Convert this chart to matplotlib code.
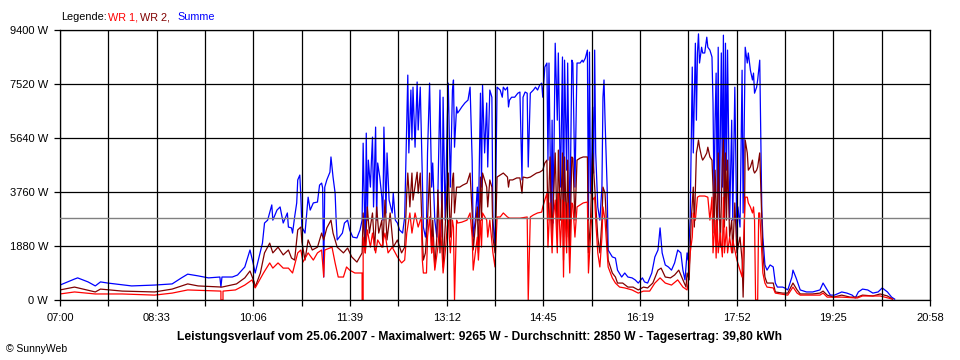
import matplotlib
matplotlib.use("Agg")
import matplotlib.pyplot as plt

# ---------------- data (minutes after 07:00, watts) ----------------
x_tick_labels = ["07:00", "08:33", "10:06", "11:39", "13:12",
                 "14:45", "16:19", "17:52", "19:25", "20:58"]
y_ticks = [0, 1880, 3760, 5640, 7520, 9400]
average_w = 2850

t_summe = [0, 14, 17, 27, 34, 39, 46, 69, 91, 108, 117, 123, 133, 143, 154, 155, 156, 166, 171, 178,
           183, 186, 188, 191, 195, 197, 200, 204, 205, 209, 212, 215, 219, 220, 223, 224, 226, 228, 229, 231,
           232, 233, 236, 239, 241, 244, 248, 250, 252, 253, 254, 255, 257, 260, 261, 263, 265, 266, 267, 272,
           274, 277, 279, 282, 286, 289, 291, 292, 294, 295, 296, 297, 299, 300, 301, 302, 304, 305, 306, 308,
           310, 311, 312, 314, 315, 317, 320, 321, 323, 325, 327, 330, 332, 334, 335, 336, 338, 339, 340, 342,
           344, 345, 347, 349, 350, 352, 353, 354, 356, 358, 359, 361, 363, 364, 366, 368, 369, 371, 373, 374,
           376, 378, 379, 380, 382, 383, 385, 387, 390, 393, 395, 397, 398, 400, 402, 403, 405, 406, 407, 409,
           411, 412, 414, 416, 417, 419, 421, 424, 426, 427, 429, 431, 432, 433, 435, 438, 441, 443, 445, 446,
           448, 450, 451, 453, 456, 458, 460, 462, 464, 465, 467, 469, 470, 471, 473, 474, 475, 477, 479, 480,
           482, 484, 485, 486, 488, 489, 491, 493, 494, 496, 498, 501, 503, 504, 506, 508, 509, 510, 511, 512,
           513, 514, 515, 516, 518, 520, 522, 523, 524, 525, 527, 528, 532, 535, 537, 541, 544, 547, 551, 554,
           557, 561, 563, 566, 570, 573, 576, 578, 580, 583, 586, 589, 592, 595, 598, 600, 602, 604, 605, 607,
           609, 610, 612, 613, 614, 615, 616, 618, 619, 621, 623, 624, 626, 628, 629, 630, 631, 632, 633, 634,
           635, 637, 638, 639, 640, 641, 642, 643, 645, 647, 648, 650, 652, 653, 655, 657, 658, 660, 662, 663,
           665, 667, 668, 669, 671, 672, 674, 676, 677, 679, 681, 684, 687, 689, 691, 696, 698, 701, 705, 706,
           709, 713, 719, 725, 732, 735, 739, 742, 746, 753, 758, 763, 766, 769, 773, 778, 783, 788, 792, 797,
           801, 804]
summe = [520, 730, 770, 630, 490, 630, 590, 490, 520, 560, 770, 900, 840, 770, 800, 450, 800, 800, 870, 1150,
         1740, 1290, 940, 1390, 1980, 2680, 2780, 3310, 2780, 3130, 3240, 2680, 3030, 2540, 2510, 2330, 2890, 3380, 4180, 4350,
         3580, 2540, 2330, 3580, 3130, 3380, 3410, 4000, 4070, 3900, 800, 3930, 4180, 4450, 4980, 4280, 3720, 2780, 2090, 2330,
         2680, 2780, 2440, 2190, 2160, 2440, 2780, 5460, 1840, 5810, 2780, 4870, 3930, 4870, 5670, 3240, 6020, 2780, 4770, 4280,
         3580, 2780, 6020, 3030, 5120, 3480, 3030, 3720, 2780, 2680, 2440, 2330, 2890, 6260, 7830, 5120, 7310, 5570, 7410, 5320,
         7590, 5920, 7410, 4280, 2540, 2190, 2540, 5120, 7550, 3930, 4770, 2780, 2190, 3720, 7310, 2190, 7060, 2780, 6260, 7550,
         3930, 7310, 7660, 5320, 6720, 6510, 6610, 6720, 6860, 6960, 7410, 4870, 2190, 2780, 3930, 2780, 7200, 3930, 7480, 5120,
         6860, 4630, 7310, 7060, 2780, 1840, 7410, 7310, 7060, 7410, 7310, 7410, 6720, 6960, 7060, 7060, 7200, 7240, 4180, 7060,
         7240, 7200, 4630, 7200, 7310, 7410, 7310, 7480, 7550, 7060, 8110, 8250, 4870, 8250, 2780, 6260, 2680, 8940, 6260, 8600,
         3930, 8460, 2190, 8350, 4520, 8250, 2330, 8350, 8250, 3930, 8250, 8250, 8350, 8280, 8420, 8700, 2780, 8630, 3720, 4280,
         6720, 4420, 8700, 5120, 3240, 2780, 3930, 7060, 7660, 6260, 3930, 1740, 1500, 1460, 1040, 800, 940, 800, 770, 700,
         590, 770, 630, 590, 940, 1500, 1740, 2510, 1640, 1220, 1150, 1040, 1290, 1740, 1640, 1040, 700, 1640, 1390, 2780,
         8110, 5120, 8940, 6260, 8600, 9265, 8250, 8800, 8600, 8600, 9150, 8800, 8700, 8460, 6860, 3380, 6260, 7900, 3720, 8800,
         2780, 8600, 3930, 9220, 2780, 8940, 4520, 8700, 2780, 6260, 2780, 7410, 2190, 3240, 2540, 8000, 3030, 8800, 8250, 8600,
         8000, 7660, 7900, 7200, 7410, 7660, 8350, 3130, 2190, 1220, 1040, 1220, 1150, 590, 450, 450, 420, 350, 800, 1040,
         770, 350, 280, 280, 350, 590, 350, 170, 170, 280, 240, 170, 70, 280, 380, 350, 240, 280, 420, 280,
         100, 30]

t_wr2 = [0, 14, 34, 39, 60, 91, 108, 123, 133, 156, 170, 178, 183, 187, 188, 193, 197, 202, 205, 210,
         215, 220, 223, 226, 229, 232, 233, 236, 239, 243, 248, 252, 254, 257, 261, 263, 267, 273, 277, 281,
         286, 291, 292, 294, 296, 298, 301, 303, 305, 307, 310, 311, 313, 315, 318, 321, 325, 329, 332, 334,
         335, 337, 339, 340, 344, 345, 347, 349, 350, 352, 354, 356, 358, 359, 361, 363, 364, 366, 368, 369,
         373, 374, 376, 378, 379, 380, 382, 385, 388, 392, 395, 397, 398, 400, 402, 403, 405, 406, 407, 411,
         412, 414, 416, 417, 419, 421, 424, 427, 431, 432, 433, 436, 440, 443, 445, 446, 450, 453, 456, 459,
         462, 465, 467, 469, 470, 472, 474, 475, 477, 479, 480, 482, 484, 485, 486, 488, 489, 491, 493, 494,
         496, 498, 501, 504, 508, 509, 511, 512, 513, 516, 518, 520, 522, 523, 525, 527, 528, 532, 535, 537,
         542, 547, 552, 557, 562, 566, 571, 576, 579, 583, 588, 592, 596, 600, 603, 604, 606, 608, 610, 611,
         613, 614, 615, 616, 618, 619, 621, 623, 624, 626, 628, 629, 630, 631, 633, 634, 636, 638, 639, 640,
         641, 642, 643, 645, 647, 648, 650, 652, 653, 655, 657, 658, 659, 660, 662, 663, 665, 667, 668, 669,
         671, 672, 674, 676, 677, 679, 681, 684, 687, 689, 696, 701, 705, 706, 710, 713, 725, 732, 735, 739,
         745, 753, 761, 768, 773, 783, 790, 797, 802]
wr2 = [350, 450, 280, 380, 310, 280, 380, 560, 490, 450, 560, 770, 1010, 630, 450, 940, 1640, 1980, 1640, 1840,
       1570, 1740, 1460, 1390, 2440, 2540, 2020, 1390, 2090, 1740, 1840, 2330, 2090, 2510, 2780, 2330, 1840, 1640, 1810, 1500,
       1320, 1640, 3030, 1640, 3240, 2330, 3030, 1740, 3240, 2330, 2780, 1840, 3480, 2090, 3030, 1840, 2090, 1640, 1840, 3720,
       4420, 3240, 4420, 3480, 4450, 3720, 4420, 2190, 1390, 1640, 2780, 4420, 1640, 2780, 1150, 2190, 3830, 1640, 3720, 1150,
       3930, 4420, 2190, 4180, 4420, 3030, 3930, 3930, 4000, 4070, 4420, 3030, 1740, 2540, 3240, 1640, 4280, 2780, 4420, 3930,
       3240, 4180, 3930, 2190, 1640, 4280, 4350, 4420, 4280, 3930, 4180, 4180, 4250, 4250, 3720, 4280, 4250, 4280, 4350, 4420,
       4450, 4520, 4770, 4870, 2780, 4980, 2190, 3240, 5120, 2190, 5220, 2780, 5120, 1390, 4980, 2190, 4870, 1640, 4980, 4940,
       2780, 4870, 4940, 4980, 4980, 1640, 2780, 3930, 5120, 3380, 2190, 1640, 2780, 3930, 3720, 2190, 1390, 940, 800, 590,
       590, 450, 450, 350, 450, 420, 590, 1040, 1110, 800, 770, 870, 1040, 700, 450, 940, 700, 2780, 3930, 2540,
       5120, 5320, 5570, 5320, 4980, 4870, 4980, 5120, 5320, 4980, 4870, 3930, 2330, 4520, 2190, 5120, 1840, 4870, 5570, 2540,
       5120, 2780, 4870, 2190, 2780, 1640, 3380, 1640, 1840, 2190, 1390, 100, 1640, 5570, 5120, 4520, 4630, 4870, 4520, 4420,
       4520, 4630, 5120, 2780, 1640, 800, 590, 590, 590, 280, 240, 240, 520, 590, 350, 210, 210, 240, 310, 170,
       100, 170, 100, 100, 170, 140, 210, 140, 30]

t_wr1 = [0, 14, 34, 60, 91, 108, 123, 154, 155, 155, 157, 157, 169, 178, 185, 188, 196, 202, 205, 210,
         215, 220, 224, 229, 232, 234, 239, 244, 248, 252, 254, 255, 262, 265, 268, 273, 276, 279, 284, 291,
         291, 292, 292, 294, 296, 299, 301, 304, 306, 310, 313, 316, 320, 325, 329, 332, 334, 337, 339, 342,
         345, 348, 349, 350, 353, 354, 356, 358, 359, 361, 364, 366, 368, 369, 371, 373, 374, 376, 378, 379,
         380, 382, 383, 387, 392, 395, 397, 398, 400, 402, 403, 405, 406, 407, 411, 412, 414, 417, 419, 421,
         424, 427, 431, 433, 438, 443, 450, 451, 453, 456, 460, 464, 465, 469, 470, 472, 474, 475, 477, 479,
         480, 482, 484, 485, 486, 488, 489, 491, 493, 494, 496, 498, 501, 504, 508, 509, 511, 513, 515, 516,
         518, 520, 522, 523, 525, 527, 528, 532, 535, 539, 544, 551, 557, 562, 568, 573, 578, 583, 589, 595,
         600, 604, 605, 607, 609, 610, 612, 614, 616, 621, 624, 626, 628, 629, 631, 632, 633, 634, 636, 638,
         639, 640, 642, 643, 645, 647, 648, 652, 655, 657, 658, 660, 662, 663, 665, 667, 668, 669, 670, 672,
         673, 674, 676, 677, 679, 681, 687, 689, 701, 706, 710, 713, 732, 735, 739, 753, 768, 773, 790, 802]
wr1 = [210, 280, 210, 210, 170, 240, 350, 310, 310, 0, 0, 310, 350, 520, 700, 420, 940, 1290, 1110, 1290,
       1110, 1110, 940, 1640, 1740, 1320, 1640, 1390, 1640, 1740, 800, 1740, 1840, 1290, 800, 800, 1150, 1040, 940, 940,
       0, 0, 2190, 1640, 2440, 1840, 2330, 1640, 2090, 1840, 2330, 1640, 1840, 1500, 1290, 1390, 2330, 3030, 2330, 3030,
       2540, 2890, 1390, 940, 940, 2190, 2890, 1640, 2190, 1040, 1840, 2780, 1640, 940, 1640, 2540, 2780, 1640, 2780, 2540,
       0, 2780, 2680, 2710, 2780, 3030, 2190, 1040, 1640, 2190, 1390, 2780, 1840, 3030, 2780, 2190, 2780, 1640, 1150, 2890,
       2890, 3030, 2890, 2850, 2850, 2850, 2890, 0, 2890, 2960, 3030, 3060, 3240, 3720, 1840, 3380, 1640, 2780, 3480, 1640,
       3720, 1840, 3480, 800, 3410, 1640, 3380, 940, 3380, 3310, 2190, 3240, 3310, 3380, 3410, 940, 2190, 3480, 3580, 2780,
       1640, 1150, 2190, 3240, 2780, 1640, 1150, 770, 590, 450, 420, 350, 240, 310, 310, 590, 770, 590, 520, 700,
       450, 350, 590, 1640, 2190, 3030, 2780, 3580, 3620, 3620, 3580, 2780, 3580, 1640, 2780, 1460, 2780, 1640, 2330, 1500,
       3580, 1640, 2540, 1640, 2190, 1640, 2090, 1390, 1040, 800, 1640, 3580, 3580, 3380, 3240, 3030, 3240, 2780, 0, 0,
       3030, 3030, 1640, 940, 590, 450, 420, 240, 170, 450, 240, 170, 170, 240, 100, 100, 70, 140, 140, 30]

legend_parts = ["Legende:", "WR 1,", "WR 2,", "Summe"]

# ---------------- figure ----------------
plt.rcParams['font.family'] = ['Liberation Sans', 'DejaVu Sans']

W, H = 960, 360
fig = plt.figure(figsize=(W / 100, H / 100), dpi=100)
fig.patch.set_facecolor('white')
ax = fig.add_axes([60 / W, 1 - 300 / H, 870 / W, 270 / H])

ax.plot(t_summe, summe, color='#0000FF', lw=0.9, zorder=1.5)
ax.plot(t_wr2, wr2, color='#800000', lw=0.9, zorder=1.6)
ax.plot(t_wr1, wr1, color='#FF0000', lw=0.9, zorder=1.7)
ax.axhline(average_w, color='#808080', lw=1.0, zorder=2.7)

total_min = 838
ax.set_xlim(0, total_min)
ax.set_ylim(0, 9400)

n_div = 2 * (len(x_tick_labels) - 1)
xt = [i * total_min / n_div for i in range(n_div + 1)]
xl = []
for i in range(n_div + 1):
    xl.append(x_tick_labels[i // 2] if i % 2 == 0 else "")
ax.set_xticks(xt)
ax.set_xticklabels(xl)
ax.set_yticks(y_ticks)
ax.set_yticklabels([f"{v} W" for v in y_ticks])

ax.set_axisbelow(False)
ax.grid(True, color='black', lw=0.9)
for s in ax.spines.values():
    s.set_color('black')
    s.set_linewidth(0.9)
ax.tick_params(axis='both', direction='out', length=4.5, width=0.9,
               color='black', labelsize=8, labelcolor='black')
ax.tick_params(axis='x', pad=5)
ax.tick_params(axis='y', pad=4)

# legend line at top (pieces in different colours)
legend_colors = ['black', '#FF0000', '#800000', '#0000FF']
legend_x_px = [61, 108, 140, 177]
for txt, col, xp in zip(legend_parts, legend_colors, legend_x_px):
    fig.text(xp / W, 1 - 17 / H, txt, color=col, fontsize=7.8, va='center', ha='left')

fig.text(0.4995, 1 - 337 / H,
         "Leistungsverlauf vom 25.06.2007 - Maximalwert: 9265 W - Durchschnitt: 2850 W - Tagesertrag: 39,80 kWh",
         ha='center', va='center', fontsize=8.7, fontweight='bold', color='black')
fig.text(6 / W, 1 - 349 / H, "\u00a9 SunnyWeb", ha='left', va='center', fontsize=7.5, color='black')

fig.savefig("out.png", dpi=100, facecolor='white')
